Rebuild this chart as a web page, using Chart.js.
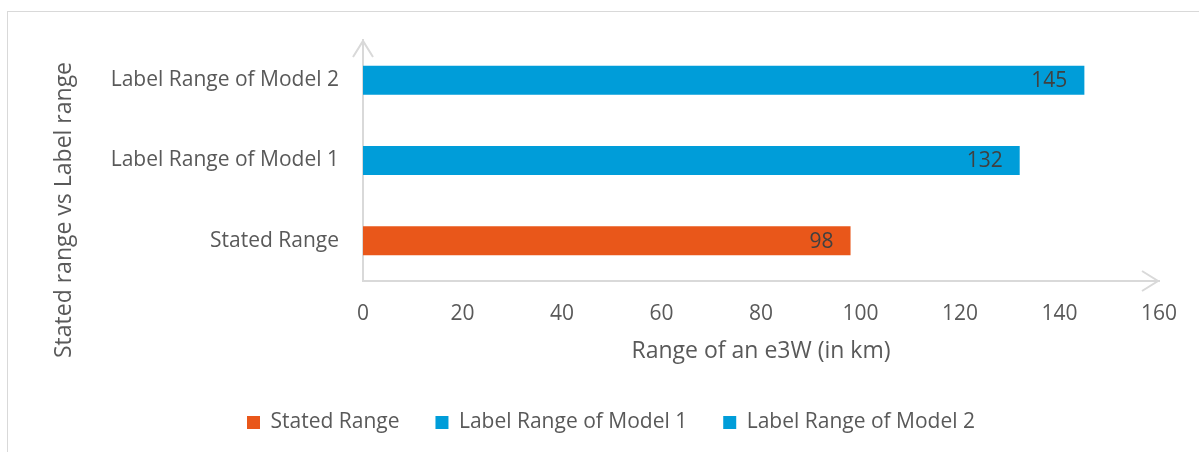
<!DOCTYPE html>
<html>
<head>
<meta charset="utf-8">
<script src="https://cdn.jsdelivr.net/npm/chart.js@4"></script>
<style>
  html, body { margin: 0; padding: 0; background: #fff; overflow: hidden; }
  #box {
    position: absolute; left: 7px; top: 11px;
    width: 1220px; height: 470px;
    border-left: 1px solid #d9d9d9; border-top: 1px solid #d9d9d9;
  }
  #myChart { display: block; }
</style>
</head>
<body>
<div id="box"><canvas id="myChart" width="1184" height="431" style="width:1184px;height:431px"></canvas></div>
<script>
const categories = ['Stated Range', 'Label Range of Model 1', 'Label Range of Model 2'];
const values = [98, 132, 145];
const colors = ['#E9571A', '#009DD9', '#009DD9'];
const xTicks = [0, 20, 40, 60, 80, 100, 120, 140, 160];

const FONT = "'Open Sans', 'Noto Sans', sans-serif";
const GREY = '#595959';
const AXIS = '#d9d9d9';

const datasets = categories.map(function (name, i) {
    return {
        label: name,
        data: categories.map(function (c, j) { return j === i ? values[i] : null; }),
        backgroundColor: colors[i],
        categoryPercentage: 1,
        barPercentage: 0.36
    };
});

const extras = {
    id: 'extras',
    afterDraw(chart) {
        const ctx = chart.ctx;
        const a = chart.chartArea;
        ctx.save();
        // axis arrows
        ctx.strokeStyle = AXIS;
        ctx.lineWidth = 2;
        ctx.beginPath();
        ctx.moveTo(a.left - 10, a.top + 17);
        ctx.lineTo(a.left, a.top + 1);
        ctx.lineTo(a.left + 10, a.top + 17);
        ctx.moveTo(a.right - 17, a.bottom - 10);
        ctx.lineTo(a.right - 1, a.bottom);
        ctx.lineTo(a.right - 17, a.bottom + 10);
        ctx.stroke();

        // value labels, inside end
        ctx.fillStyle = '#404040';
        ctx.font = '21px ' + FONT;
        ctx.textAlign = 'right';
        ctx.textBaseline = 'middle';
        chart.data.datasets.forEach(function (ds, i) {
            chart.getDatasetMeta(i).data.forEach(function (bar, j) {
                if (ds.data[j] == null) return;
                ctx.fillText(String(ds.data[j]), bar.x - 17, bar.y + 1);
            });
        });

        // y axis title
        ctx.fillStyle = GREY;
        ctx.font = '23px ' + FONT;
        ctx.textAlign = 'center';
        ctx.translate(56, 198);
        ctx.rotate(-Math.PI / 2);
        ctx.fillText('Stated range vs Label range', 0, 0);
        ctx.restore();
    }
};

new Chart(document.getElementById('myChart'), {
    type: 'bar',
    data: { labels: categories, datasets: datasets },
    plugins: [extras],
    options: {
        indexAxis: 'y',
        responsive: false,
        animation: false,
        layout: { padding: { left: 55, top: 28, right: 33, bottom: 0 } },
        plugins: {
            tooltip: { enabled: false },
            legend: {
                position: 'bottom',
                labels: {
                    color: GREY,
                    font: { family: FONT, size: 21 },
                    boxWidth: 13,
                    boxHeight: 13,
                    padding: 36
                }
            }
        },
        scales: {
            x: {
                stacked: true,
                min: 0,
                max: 160,
                afterBuildTicks: function (scale) {
                    scale.ticks = xTicks.map(function (v) { return { value: v }; });
                },
                afterFit: function (scale) {
                    scale.height = 95;
                    scale.paddingLeft = 0;
                    scale.paddingRight = 0;
                },
                grid: { display: false, drawTicks: false },
                border: { display: true, color: AXIS, width: 2 },
                ticks: { color: GREY, font: { family: FONT, size: 21 }, padding: 20 },
                title: {
                    display: true,
                    text: 'Range of an e3W (in km)',
                    color: GREY,
                    font: { family: FONT, size: 23 },
                    padding: { top: 0, bottom: 11 }
                }
            },
            y: {
                stacked: true,
                reverse: true,
                afterFit: function (scale) {
                    scale.width = 300;
                    scale.paddingTop = 0;
                    scale.paddingBottom = 0;
                },
                grid: { display: false, drawTicks: false },
                border: { display: true, color: AXIS, width: 2 },
                ticks: { color: GREY, font: { family: FONT, size: 21 }, padding: 24 }
            }
        }
    }
});
</script>
</body>
</html>
